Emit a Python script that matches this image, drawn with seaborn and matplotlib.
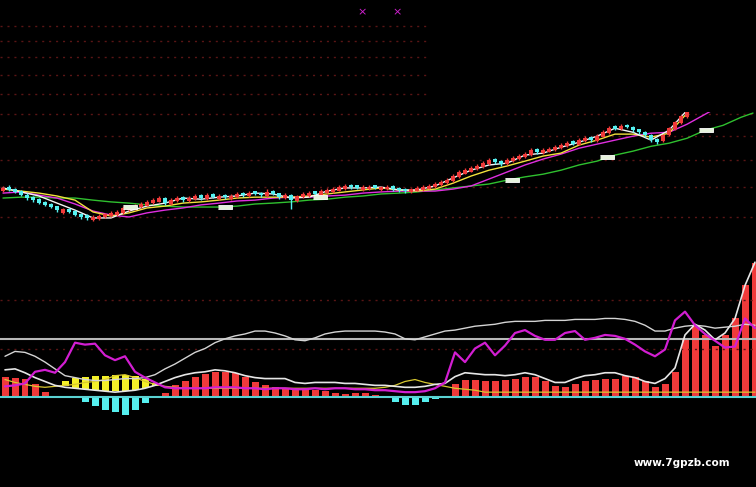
import numpy as np
import matplotlib
matplotlib.use("Agg")
import matplotlib.pyplot as plt
import seaborn as sns

# ---- price panel (daily candles) ----
opens = [8.85, 9.02, 8.95, 8.86, 8.74, 8.64, 8.58, 8.48, 8.43, 8.34,
         8.14, 8.27, 8.18, 8.09, 8.06, 7.91, 7.94, 7.99, 8.04, 8.07,
         8.14, 8.22, 8.25, 8.31, 8.37, 8.44, 8.50, 8.63, 8.43, 8.51,
         8.66, 8.51, 8.58, 8.73, 8.59, 8.76, 8.60, 8.74, 8.59, 8.65,
         8.81, 8.68, 8.85, 8.81, 8.69, 8.87, 8.78, 8.61, 8.74, 8.53,
         8.65, 8.70, 8.85, 8.73, 8.80, 8.83, 8.88, 8.94, 9.09, 9.06,
         8.91, 8.93, 9.06, 8.90, 8.92, 9.03, 8.98, 8.95, 8.83, 8.88,
         8.91, 8.95, 9.00, 9.07, 9.13, 9.22, 9.36, 9.49, 9.57, 9.65,
         9.74, 9.85, 10.06, 9.98, 9.84, 9.96, 10.04, 10.12, 10.22, 10.46,
         10.28, 10.35, 10.40, 10.48, 10.57, 10.78, 10.64, 10.78, 10.97, 10.80,
         10.98, 11.14, 11.43, 11.30, 11.50, 11.42, 11.30, 11.20, 11.06, 10.88,
         10.78, 11.06, 11.33, 11.60, 11.88, 12.17, 12.46, 12.76, 12.97, 13.17,
         13.38, 13.60, 13.82, 14.04, 14.27, 14.50]
closes = [8.97, 8.90, 8.83, 8.72, 8.62, 8.55, 8.45, 8.39, 8.32, 8.22,
          8.24, 8.16, 8.06, 8.00, 7.97, 8.00, 8.03, 8.09, 8.13, 8.16,
          8.29, 8.32, 8.35, 8.42, 8.49, 8.55, 8.62, 8.45, 8.55, 8.62,
          8.55, 8.62, 8.69, 8.62, 8.72, 8.65, 8.69, 8.65, 8.69, 8.76,
          8.72, 8.79, 8.76, 8.72, 8.83, 8.76, 8.65, 8.72, 8.55, 8.69,
          8.76, 8.79, 8.76, 8.86, 8.90, 8.93, 9.00, 9.04, 9.00, 8.97,
          9.00, 9.02, 8.97, 8.99, 9.00, 8.93, 8.90, 8.86, 8.93, 8.97,
          9.00, 9.04, 9.11, 9.18, 9.25, 9.40, 9.55, 9.62, 9.70, 9.78,
          9.89, 10.01, 9.93, 9.85, 10.01, 10.09, 10.17, 10.25, 10.41, 10.33,
          10.41, 10.45, 10.53, 10.62, 10.70, 10.68, 10.83, 10.91, 10.83, 11.00,
          11.17, 11.35, 11.33, 11.44, 11.40, 11.26, 11.17, 11.04, 10.83, 10.74,
          11.04, 11.35, 11.62, 11.90, 12.18, 12.47, 12.77, 12.98, 13.18, 13.39,
          13.61, 13.83, 14.05, 14.28, 14.51, 14.74]
highs = [9.03, 9.06, 8.98, 8.89, 8.78, 8.68, 8.61, 8.52, 8.46, 8.37,
         8.29, 8.30, 8.21, 8.12, 8.08, 8.05, 8.08, 8.14, 8.18, 8.21,
         8.34, 8.38, 8.42, 8.48, 8.55, 8.62, 8.68, 8.66, 8.61, 8.69,
         8.69, 8.68, 8.76, 8.76, 8.79, 8.79, 8.75, 8.77, 8.75, 8.83,
         8.84, 8.86, 8.88, 8.84, 8.92, 8.90, 8.81, 8.78, 8.77, 8.74,
         8.82, 8.86, 8.88, 8.92, 8.96, 9.00, 9.07, 9.11, 9.12, 9.09,
         9.06, 9.08, 9.09, 9.05, 9.06, 9.06, 9.01, 8.98, 8.98, 9.03,
         9.06, 9.10, 9.17, 9.25, 9.32, 9.48, 9.63, 9.70, 9.78, 9.86,
         9.98, 10.10, 10.10, 10.01, 10.08, 10.17, 10.25, 10.33, 10.50, 10.50,
         10.48, 10.53, 10.61, 10.71, 10.79, 10.82, 10.93, 11.00, 11.01, 11.08,
         11.26, 11.44, 11.48, 11.52, 11.54, 11.46, 11.33, 11.23, 11.10, 10.92,
         11.10, 11.42, 11.70, 11.98, 12.26, 12.55, 12.85, 13.05, 13.25, 13.46,
         13.68, 13.90, 14.12, 14.35, 14.58, 14.80]
lows = [8.82, 8.86, 8.79, 8.68, 8.57, 8.50, 8.41, 8.34, 8.28, 8.17,
        8.11, 8.12, 8.02, 7.95, 7.91, 7.88, 7.92, 7.97, 8.01, 8.04,
        8.11, 8.19, 8.23, 8.28, 8.34, 8.41, 8.47, 8.39, 8.40, 8.48,
        8.50, 8.48, 8.55, 8.57, 8.56, 8.61, 8.57, 8.60, 8.56, 8.62,
        8.67, 8.65, 8.71, 8.67, 8.66, 8.72, 8.60, 8.58, 8.26, 8.50,
        8.62, 8.67, 8.71, 8.70, 8.77, 8.80, 8.85, 8.91, 8.95, 8.92,
        8.88, 8.90, 8.92, 8.87, 8.89, 8.88, 8.84, 8.81, 8.80, 8.85,
        8.88, 8.92, 8.97, 9.04, 9.10, 9.19, 9.33, 9.46, 9.54, 9.62,
        9.71, 9.82, 9.87, 9.79, 9.81, 9.93, 10.01, 10.09, 10.19, 10.27,
        10.25, 10.32, 10.37, 10.45, 10.54, 10.62, 10.61, 10.75, 10.77, 10.77,
        10.95, 11.11, 11.26, 11.27, 11.34, 11.20, 11.11, 10.97, 10.76, 10.68,
        10.75, 11.02, 11.29, 11.56, 11.84, 12.14, 12.42, 12.70, 12.93, 13.12,
        13.33, 13.55, 13.78, 14.00, 14.22, 14.45]

# moving averages, read every third candle (+ last candle)
ma_idx = [*range(0, 126, 3), 125]
ma5 = [8.97, 8.83, 8.69, 8.45, 8.22, 7.97, 7.97, 8.19, 8.35, 8.45,
       8.62, 8.58, 8.65, 8.69, 8.79, 8.76, 8.62, 8.65, 8.86, 8.97,
       8.97, 9.00, 8.90, 8.90, 9.04, 9.33, 9.62, 9.82, 9.89, 10.21,
       10.29, 10.53, 10.74, 11.00, 11.35, 11.17, 10.83, 11.26, 12.18, 13.08,
       13.72, 14.40, 14.90]
ma10 = [8.93, 8.86, 8.79, 8.69, 8.55, 8.16, 8.03, 8.13, 8.29, 8.35,
        8.45, 8.49, 8.55, 8.62, 8.65, 8.65, 8.65, 8.69, 8.76, 8.83,
        8.90, 8.97, 8.90, 8.86, 8.93, 9.14, 9.40, 9.62, 9.78, 9.97,
        10.17, 10.29, 10.62, 10.83, 11.09, 11.09, 10.96, 11.13, 12.04, 12.87,
        13.50, 14.16, 14.50]
ma20 = [8.79, 8.83, 8.72, 8.62, 8.42, 8.19, 8.06, 8.00, 8.13, 8.22,
        8.29, 8.39, 8.45, 8.52, 8.55, 8.62, 8.65, 8.65, 8.69, 8.72,
        8.79, 8.83, 8.86, 8.86, 8.86, 8.93, 9.04, 9.29, 9.55, 9.82,
        10.05, 10.25, 10.49, 10.66, 10.83, 11.00, 11.13, 11.17, 11.53, 11.99,
        12.47, 12.98, 13.30]
ma60 = [8.62, 8.65, 8.65, 8.62, 8.62, 8.55, 8.49, 8.45, 8.39, 8.35,
        8.32, 8.32, 8.32, 8.35, 8.42, 8.45, 8.49, 8.55, 8.58, 8.65,
        8.69, 8.76, 8.79, 8.83, 8.90, 8.97, 9.04, 9.11, 9.25, 9.37,
        9.47, 9.62, 9.82, 9.97, 10.21, 10.37, 10.57, 10.70, 10.91, 11.26,
        11.48, 11.85, 12.05]

# small white tags sitting on the MA60 line
tag_idx = [21.2, 37.0, 52.8, 84.8, 100.7, 117.2]
tag_price = [8.32, 8.32, 8.65, 9.25, 10.13, 11.26]

grid_prices = [8, 9, 10, 11, 12, 13, 14, 15, 16, 17]

# ---- indicator panel ----
hist = [21, 20, 19, 13, 5, 1, 0, -1, -5, -9,
        -13, -15, -19, -13, -6, -1, 4, 12, 16, 21,
        24, 26, 26, 25, 21, 15, 12, 10, 9, 9,
        8, 7, 6, 4, 3, 4, 4, 2, -1, -5,
        -8, -8, -5, -2, 1, 13, 18, 18, 16, 16,
        18, 19, 21, 21, 16, 11, 10, 13, 16, 18,
        19, 19, 22, 21, 16, 10, 13, 26, 59, 74,
        64, 53, 64, 81, 115, 138]
line_a = [42, 47, 46, 42, 36, 29, 22, 20, 18, 17,
          17, 18, 19, 19, 20, 23, 29, 34, 40, 46,
          50, 56, 60, 63, 65, 68, 68, 66, 63, 59,
          58, 61, 65, 67, 68, 68, 68, 68, 67, 65,
          60, 59, 62, 65, 68, 69, 71, 73, 74, 75,
          77, 78, 78, 78, 79, 79, 79, 80, 80, 80,
          81, 81, 80, 78, 74, 68, 68, 71, 73, 74,
          73, 71, 72, 73, 75, 74]
line_b = [28, 29, 25, 20, 16, 12, 10, 9, 8, 7,
          6, 5, 6, 7, 9, 12, 16, 20, 23, 25,
          26, 28, 27, 25, 22, 20, 19, 19, 19, 15,
          14, 15, 15, 15, 14, 14, 13, 12, 12, 11,
          10, 10, 11, 13, 14, 21, 25, 24, 23, 23,
          22, 23, 25, 23, 19, 15, 15, 19, 22, 23,
          25, 25, 22, 20, 16, 14, 19, 30, 64, 75,
          69, 59, 66, 81, 115, 139]
magenta = [11, 12, 14, 26, 28, 25, 36, 56, 54, 55,
           43, 38, 42, 26, 20, 15, 10, 9, 9, 9,
           9, 10, 10, 10, 9, 9, 8, 9, 9, 8,
           8, 9, 8, 9, 9, 8, 8, 7, 7, 6,
           5, 5, 6, 9, 15, 46, 36, 50, 56, 43,
           53, 66, 69, 63, 59, 59, 66, 68, 59, 61,
           64, 63, 60, 54, 47, 42, 49, 79, 88, 74,
           65, 58, 51, 52, 81, 71]
yellow = [18, 15, 13, 11, 10, 11, 12, 13, 15, 16,
          18, 22, 23, 20, 16, 13, 11, 10, 9, 9,
          9, 9, 9, 9, 9, 9, 9, 9, 9, 9,
          9, 9, 9, 9, 9, 9, 9, 9, 10, 12,
          16, 18, 15, 13, 11, 9, 8, 7, 5, 5,
          5, 5, 5, 5, 5, 5, 5, 5, 5, 5,
          5, 5, 5, 5, 5, 5, 5, 5, 5, 5,
          5, 5, 5, 5, 5, 5]
band_start = 6
band_top = [16, 20, 21, 22, 22, 23, 23, 22, 19, 14]
band_bot = [11, 9, 8, 7, 6, 6, 6, 7, 9, 11]
ind_levels = [50, 100]
ref_level = 60

sns.set_theme(style="dark", rc={"axes.facecolor": "black", "figure.facecolor": "black"})

RED = "#f03a3a"
CYAN = "#55f0f0"
GRID = "#5a1515"
dots = (0, (1.5, 3.5))

fig = plt.figure(figsize=(7.56, 4.87), dpi=100)
ax_top = fig.add_axes([0, 1 - 112 / 487, 1, 112 / 487])
ax_px = fig.add_axes([0, 1 - 230 / 487, 1, 118 / 487])
ax_lo = fig.add_axes([0, 0, 1, 257 / 487])

# empty upper area, only the short grid lines
ax_top.set_yscale("log")
ax_top.set_ylim(12.10, 18.8)
ax_top.set_xlim(0, 1)
for p in grid_prices:
    ax_top.axhline(p, xmin=0, xmax=430 / 756, color=GRID, lw=1, ls=dots)

# price axes
ax_px.set_yscale("log")
ax_px.set_ylim(7.60, 12.10)
ax_px.set_xlim(-0.5, 125.5)
for p in grid_prices:
    ax_px.axhline(p, color=GRID, lw=1, ls=dots)

for vals, col in [(ma60, "#2fc02f"), (ma20, "#e02ee0"), (ma10, "#f2e23c"), (ma5, "#f4f4f4")]:
    sns.lineplot(x=ma_idx, y=vals, ax=ax_px, color=col, lw=1.0,
                 estimator=None, sort=False, legend=False, zorder=2)

# candles drawn over the average lines
o = np.array(opens)
c = np.array(closes)
idx = np.arange(len(c))
cols = np.where(c >= o, RED, CYAN)
ax_px.vlines(idx, lows, highs, colors=cols, lw=1.0, zorder=3)
ax_px.bar(idx, np.maximum(np.abs(c - o), 0.01), bottom=np.minimum(o, c),
          width=0.68, color=cols, linewidth=0, zorder=3)

tag = [(-3, -1), (3, -1), (3, 1), (-3, 1)]
ax_px.scatter(tag_idx, tag_price, marker=tag, s=90, facecolor="#e6f2dc",
              edgecolor="white", linewidth=0.6, zorder=5)

# indicator axes
ax_lo.set_ylim(-92.8, 172.2)
ax_lo.set_xlim(0, 75.6)
for lv in ind_levels:
    ax_lo.axhline(lv, color=GRID, lw=1, ls=dots)

bx = np.arange(len(hist)) + 0.5
h = np.array(hist)
ax_lo.bar(bx, h, width=0.7, color=np.where(h >= 0, RED, CYAN), linewidth=0)
band_x = bx[band_start:band_start + len(band_top)]
ax_lo.bar(band_x, np.array(band_top) - np.array(band_bot), bottom=band_bot,
          width=0.7, color="#f4f028", linewidth=0)

ax_lo.axhline(0, color="#5ad2d2", lw=1.5)
ax_lo.axhline(ref_level, color="#b8b8b8", lw=1.5)

sns.lineplot(x=bx, y=yellow, ax=ax_lo, color="#d8c830", lw=0.9, estimator=None, legend=False)
sns.lineplot(x=bx, y=line_a, ax=ax_lo, color="#d4d4d4", lw=1.0, estimator=None, legend=False)
sns.lineplot(x=bx, y=line_b, ax=ax_lo, color="#e6e6e6", lw=1.2, estimator=None, legend=False)
sns.lineplot(x=bx, y=magenta, ax=ax_lo, color="#d21ed2", lw=1.6, estimator=None, legend=False)

for ax in (ax_top, ax_px, ax_lo):
    ax.set_axis_off()

fig.text(362 / 756, 1 - 12 / 487, "×", color="#d020d0", fontsize=8, ha="center", va="center")
fig.text(397 / 756, 1 - 12 / 487, "×", color="#d020d0", fontsize=8, ha="center", va="center")
fig.text(682 / 756, 1 - 463 / 487, "www.7gpzb.com", color="white", fontsize=7.5,
         ha="center", va="center", fontweight="bold")

fig.savefig("out.png", dpi=100, facecolor="black")
